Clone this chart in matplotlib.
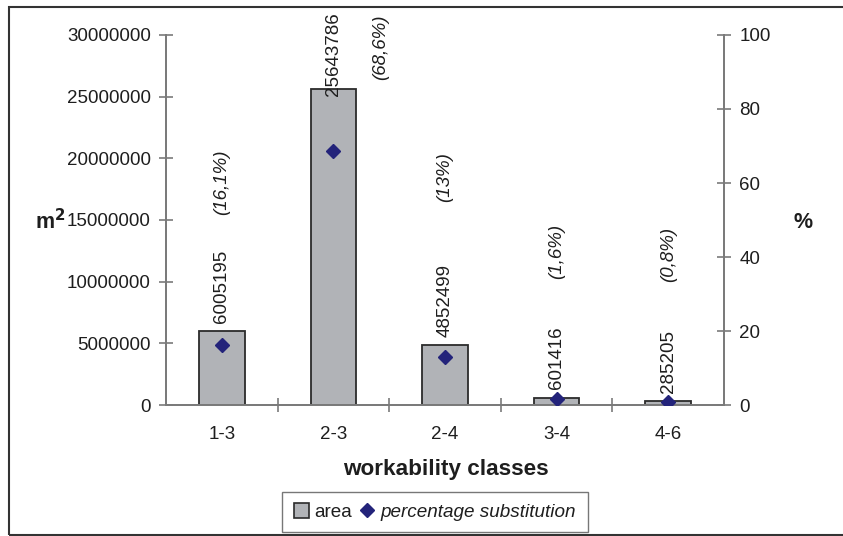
import matplotlib.pyplot as plt
from matplotlib.patches import Rectangle
from matplotlib.lines import Line2D
from matplotlib.transforms import blended_transform_factory

plt.rcParams["font.family"] = ["Liberation Sans", "DejaVu Sans"]

categories = ["1-3", "2-3", "2-4", "3-4", "4-6"]
area = [6005195, 25643786, 4852499, 601416, 285205]
percent = [16.1, 68.6, 13, 1.6, 0.8]
percent_labels = ["(16,1%)", "(68,6%)", "(13%)", "(1,6%)", "(0,8%)"]

# where the percentage labels sit: (x offset in categories, height on % axis)
pct_label_pos = [(0, 60.3), (0.42, 96.8), (0, 61.6), (0, 41.4), (0, 40.8)]

BAR_COLOR = "#b1b3b7"
DIAMOND = "#23237a"
AXIS_GRAY = "#7a7a7a"
TEXT = "#1e1e1e"

fig = plt.figure(figsize=(8.43, 5.36), dpi=100)
ax = fig.add_axes([166 / 843, 1 - 405 / 536, (724 - 166) / 843, (405 - 35) / 536])
ax2 = ax.twinx()

x = list(range(len(categories)))
ax.bar(x, area, width=0.41, color=BAR_COLOR, edgecolor="#2b2b2b", linewidth=1.3, zorder=2)
top_trans = blended_transform_factory(ax.transData, fig.transFigure)
for xi, v in zip(x, area):
    if v > 25000000:
        # tall bar: label gets pushed down to stay inside the chart frame
        ax.text(xi, 1 - 12 / 536, str(v), transform=top_trans, rotation=90,
                ha="center", va="top", fontsize=13.5, color=TEXT, zorder=4)
    else:
        ax.annotate(str(v), (xi, v), xytext=(0, 6), textcoords="offset points",
                    rotation=90, ha="center", va="bottom", fontsize=13.5, color=TEXT)

ax.set_xlim(-0.5, len(categories) - 0.5)
ax.set_ylim(0, 30000000)
ax.set_yticks(range(0, 30000001, 5000000))
ax.set_yticklabels([str(t) for t in range(0, 30000001, 5000000)])
ax.set_xticks([i + 0.5 for i in x[:-1]])
ax.set_xticklabels([])
ax.set_xticks(x, minor=True)
ax.set_xticklabels(categories, minor=True)
ax.tick_params(axis="x", which="minor", length=0, pad=15, labelsize=13.5, colors=TEXT)
ax.tick_params(axis="x", which="major", direction="inout", length=10, color=AXIS_GRAY, width=1.2)
ax.tick_params(axis="y", direction="inout", length=10, color=AXIS_GRAY, width=1.2,
               labelsize=13.5, labelcolor=TEXT, pad=6)

ax2.set_ylim(0, 100)
ax2.set_yticks(range(0, 101, 20))
ax2.tick_params(axis="y", direction="inout", length=10, color=AXIS_GRAY, width=1.2,
                labelsize=13.5, labelcolor=TEXT, pad=6)
ax2.plot(x, percent, linestyle="none", marker="D", markersize=7,
         color=DIAMOND, zorder=3)
for xi, lab, (dx, yy) in zip(x, percent_labels, pct_label_pos):
    ax2.text(xi + dx, yy, lab, rotation=90, ha="center", va="center",
             fontsize=13.5, style="italic", color=TEXT)

for a in (ax, ax2):
    a.spines["top"].set_visible(False)
    for s in ("left", "right", "bottom"):
        a.spines[s].set_color(AXIS_GRAY)
        a.spines[s].set_linewidth(1.3)
ax.patch.set_visible(False)

fig.text(50 / 843, 1 - 222 / 536, "m$^\\mathbf{2}$", fontsize=15.5, fontweight="bold",
         ha="center", va="center", color=TEXT)
fig.text(803 / 843, 1 - 222 / 536, "%", fontsize=15.5, fontweight="bold",
         ha="center", va="center", color=TEXT)
fig.text(446 / 843, 1 - 470 / 536, "workability classes", fontsize=16.2,
         fontweight="bold", ha="center", va="center", color=TEXT)

handles = [
    Rectangle((0, 0), 1, 1, facecolor=BAR_COLOR, edgecolor="#2b2b2b", linewidth=1.2),
    Line2D([], [], linestyle="none", marker="D", markersize=7, color=DIAMOND),
]
leg = fig.legend(handles, ["area", "percentage substitution"], loc="center",
                 bbox_to_anchor=(435 / 843, 1 - 512 / 536), ncol=2, fontsize=13.6,
                 frameon=True, fancybox=False, edgecolor="#555555",
                 handlelength=0.8, handleheight=0.8, handletextpad=0.3,
                 columnspacing=0.4, borderpad=0.6, borderaxespad=0)
leg.get_frame().set_linewidth(1.0)
leg.get_texts()[1].set_style("italic")
for t in leg.get_texts():
    t.set_color(TEXT)

# outer frame around the whole chart
fig.patches.append(Rectangle((9 / 843, 1 - 535 / 536), 1.0, 528 / 536,
                             transform=fig.transFigure, fill=False,
                             edgecolor="#333333", linewidth=1.5))

fig.savefig("out.png", dpi=100)
